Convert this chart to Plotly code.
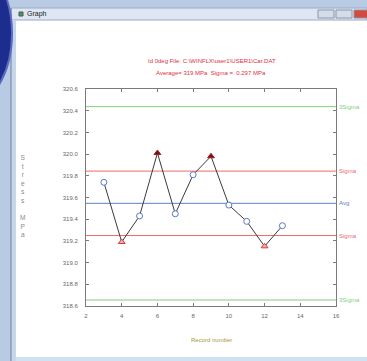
import numpy as np
import plotly.graph_objects as go

# Stress readings per record
records = [3, 4, 5, 6, 7, 8, 9, 10, 11, 12, 13]
stress = [319.74, 319.19, 319.43, 320.01, 319.45, 319.81, 319.98, 319.53, 319.38, 319.15, 319.34]
sigma = 0.297
x_ticks = [2, 4, 6, 8, 10, 12, 14, 16]
y_ticks = [318.6, 318.8, 319.0, 319.2, 319.4, 319.6, 319.8, 320.0, 320.2, 320.4, 320.6]
title_lines = ["Id 0deg File: C:\\WINFLX\\user1\\USER1\\Car.DAT",
               "Average= 319 MPa  Sigma =  0.297 MPa"]

avg = float(np.mean(stress))
limits = [
    ("3Sigma", avg + 3 * sigma, "#7fcf7f"),
    ("Sigma", avg + sigma, "#ef6a6a"),
    ("Avg", avg, "#5f7fc4"),
    ("Sigma", avg - sigma, "#ef6a6a"),
    ("3Sigma", avg - 3 * sigma, "#7fcf7f"),
]

W, H = 367, 361
L, R, T, B = 86, 336, 89, 306  # plot area in pixels


def px(x):
    return (x - L) / (R - L)


def py(y):
    return (B - y) / (B - T)


FONT = "Liberation Sans, Arial, sans-serif"
fig = go.Figure()

# Reference lines across the chart
for name, val, col in limits:
    fig.add_trace(go.Scatter(x=[2, 16], y=[val, val], mode="lines",
                             line=dict(color=col, width=1), hoverinfo="skip",
                             showlegend=False))
    fig.add_annotation(x=1.0, xref="paper", y=val, yref="y", text=name,
                       showarrow=False, xanchor="left", xshift=1,
                       font=dict(size=6, color=col, family=FONT))

# Connecting line
fig.add_trace(go.Scatter(x=records, y=stress, mode="lines",
                         line=dict(color="#3a3a3a", width=1), showlegend=False))

hi = [(x, y) for x, y in zip(records, stress) if y > avg + sigma]
lo = [(x, y) for x, y in zip(records, stress) if y < avg - sigma]
mid = [(x, y) for x, y in zip(records, stress) if avg - sigma <= y <= avg + sigma]

fig.add_trace(go.Scatter(x=[p[0] for p in mid], y=[p[1] for p in mid], mode="markers",
                         marker=dict(symbol="circle", size=6, color="white",
                                     line=dict(color="#5a78c8", width=1)),
                         showlegend=False))
fig.add_trace(go.Scatter(x=[p[0] for p in lo], y=[p[1] for p in lo], mode="markers",
                         marker=dict(symbol="triangle-up", size=6, color="#f4b0b0",
                                     line=dict(color="#d83a3a", width=1)),
                         showlegend=False))
fig.add_trace(go.Scatter(x=[p[0] for p in hi], y=[p[1] for p in hi], mode="markers",
                         marker=dict(symbol="triangle-up", size=6, color="#7a1010",
                                     line=dict(color="#a02020", width=1)),
                         showlegend=False))

axis_common = dict(showgrid=False, zeroline=False, showline=True, linecolor="#7a7a7a",
                   linewidth=1, mirror="allticks", ticks="inside", ticklen=3,
                   tickcolor="#7a7a7a",
                   tickfont=dict(size=6, color="#666", family=FONT))
fig.update_xaxes(range=[2, 16], tickvals=x_ticks, ticklabelstandoff=4, **axis_common)
fig.update_yaxes(range=[318.6, 320.6], tickvals=y_ticks, tickformat=".1f",
                 ticklabelstandoff=6, **axis_common)

shapes = []
# Window chrome: desktop strip, orb, frame, title bar
shapes.append(dict(type="rect", xref="paper", yref="paper", x0=px(0), x1=px(W),
                   y0=py(0), y1=py(W), fillcolor="#b9cbe4", line=dict(width=0), layer="below"))
shapes.append(dict(type="rect", xref="paper", yref="paper", x0=px(16), x1=px(W),
                   y0=py(20), y1=py(357), fillcolor="white", line=dict(width=0), layer="below"))
shapes.append(dict(type="rect", xref="paper", yref="paper", x0=px(11), x1=px(W),
                   y0=py(8), y1=py(20), fillcolor="#dde6f2", line=dict(color="#9aaac4", width=1),
                   layer="below"))
shapes.append(dict(type="rect", xref="paper", yref="paper", x0=px(11), x1=px(16),
                   y0=py(20), y1=py(361), fillcolor="#c8d6ea", line=dict(width=0), layer="below"))
shapes.append(dict(type="line", xref="paper", yref="paper", x0=px(11), x1=px(11),
                   y0=py(8), y1=py(361), line=dict(color="#6e7f9c", width=1), layer="below"))
shapes.append(dict(type="circle", xref="paper", yref="paper", x0=px(-95), x1=px(12),
                   y0=py(-45), y1=py(112), fillcolor="#1d2d8e",
                   line=dict(color="#5a6cc4", width=2), layer="below"))
shapes.append(dict(type="rect", xref="paper", yref="paper", x0=px(19), x1=px(23),
                   y0=py(12), y1=py(16), fillcolor="#3f9a6a", line=dict(color="#555", width=1),
                   layer="below"))
for x0, x1, col in [(318, 334, "#d4dce8"), (336, 352, "#d4dce8"), (354, 370, "#d44a3e")]:
    shapes.append(dict(type="rect", xref="paper", yref="paper", x0=px(x0), x1=px(x1),
                       y0=py(10), y1=py(18), fillcolor=col, line=dict(color="#8a96aa", width=1),
                       layer="below"))
shapes.append(dict(type="rect", xref="paper", yref="paper", x0=px(16), x1=px(W),
                   y0=py(357), y1=py(361), fillcolor="#cfe2f3", line=dict(width=0), layer="below"))

annotations = [
    dict(x=px(25), y=py(14), xref="paper", yref="paper", text="Graph", showarrow=False,
         xanchor="left", yanchor="middle", font=dict(size=7, color="#222", family=FONT)),
    dict(x=px(212), y=py(61), xref="paper", yref="paper", text=title_lines[0], showarrow=False,
         xanchor="center", yanchor="middle", font=dict(size=6, color="#e0303a", family=FONT)),
    dict(x=px(211), y=py(73), xref="paper", yref="paper", text=title_lines[1], showarrow=False,
         xanchor="center", yanchor="middle", font=dict(size=6, color="#e0303a", family=FONT)),
    dict(x=px(211), y=py(340), xref="paper", yref="paper", text="Record number", showarrow=False,
         xanchor="center", yanchor="middle", font=dict(size=6, color="#a89a3a", family=FONT)),
    dict(x=px(23), y=py(196), xref="paper", yref="paper",
         text="<br>".join(list("Stress") + [" "] + list("MPa")), showarrow=False,
         xanchor="center", yanchor="middle", align="center",
         font=dict(size=6.6, color="#8a8a8a", family=FONT)),
]

fig.update_layout(width=W, height=H, autosize=False,
                  margin=dict(l=L, r=W - R, t=T, b=H - B, pad=0),
                  paper_bgcolor="white", plot_bgcolor="white",
                  shapes=shapes, annotations=fig.layout.annotations + tuple(annotations),
                  showlegend=False)

fig.write_html("out.html")
